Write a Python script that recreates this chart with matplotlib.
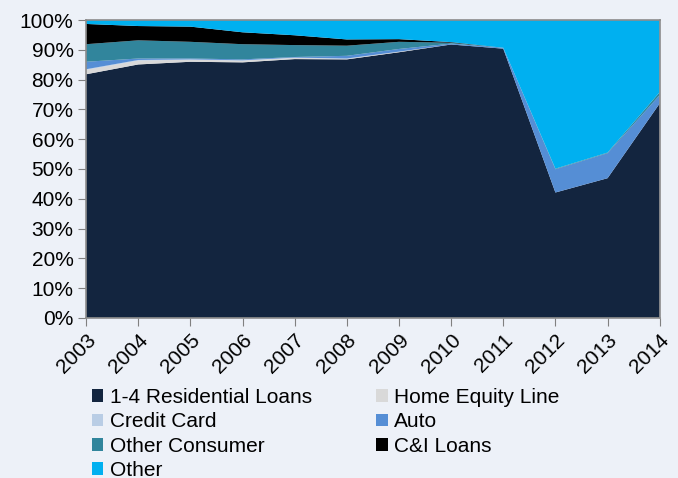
import numpy as np
import matplotlib.pyplot as plt

plt.rcParams['font.family'] = ['Liberation Sans', 'DejaVu Sans']

years = [2003, 2004, 2005, 2006, 2007, 2008, 2009, 2010, 2011, 2012, 2013, 2014]
residential = [81.8, 85.1, 86.0, 85.8, 86.9, 86.8, 89.2, 91.8, 90.4, 42.1, 46.9, 72.0]
home_equity = [1.5, 1.3, 0.7, 0.6, 0.4, 0.2, 0.2, 0.0, 0.0, 0.0, 0.0, 0.0]
credit_card = [0.2, 0.2, 0.1, 0.1, 0.1, 0.1, 0.0, 0.0, 0.0, 0.0, 0.0, 0.0]
auto = [2.5, 0.5, 0.3, 0.3, 0.2, 0.9, 0.9, 0.3, 0.3, 7.8, 8.4, 2.8]
other_consumer = [5.9, 6.1, 5.6, 5.1, 4.0, 3.4, 2.4, 0.3, 0.0, 0.2, 0.2, 1.0]
ci_loans = [6.8, 4.8, 5.1, 4.0, 3.3, 2.1, 0.9, 0.2, 0.0, 0.0, 0.0, 0.0]

series = [residential, home_equity, credit_card, auto, other_consumer, ci_loans]
other = [100 - sum(v) for v in zip(*series)]

labels = ['1-4 Residential Loans', 'Home Equity Line', 'Credit Card', 'Auto',
          'Other Consumer', 'C&I Loans', 'Other']
colors = ['#13253f', '#d9d9d9', '#b9cde5', '#558ed5', '#31859c', '#000000', '#00b0f0']

bg = '#edf1f8'
fig = plt.figure(figsize=(6.78, 4.78), dpi=100, facecolor=bg)
ax = fig.add_axes([0.127, 0.335, 0.846, 0.623])
ax.set_facecolor(bg)

polys = ax.stackplot(years, *(series + [other]), labels=labels, colors=colors, linewidth=0)

ax.set_xlim(2003, 2014)
ax.set_ylim(0, 100)
ax.set_xticks(years)
ax.set_xticklabels([str(y) for y in years], rotation=45, ha='right',
                   rotation_mode='anchor', fontsize=15)
ax.set_yticks(np.arange(0, 101, 10))
ax.set_yticklabels(['%d%%' % v for v in range(0, 101, 10)], fontsize=15)
ax.tick_params(direction='out', length=6, color='#808080', pad=3)
for s in ax.spines.values():
    s.set_color('#8c8c8c')
    s.set_linewidth(1.2)

# legend reads row by row in the reference
order = [0, 2, 4, 6, 1, 3, 5]
ax.legend([polys[i] for i in order], [labels[i] for i in order],
          loc='upper left', bbox_to_anchor=(0.01, -0.235), ncol=2,
          frameon=False, fontsize=15, handlelength=0.55, handleheight=0.55,
          handletextpad=0.3, columnspacing=3.1, labelspacing=0.26,
          borderaxespad=0, borderpad=0)

plt.savefig('out.png', dpi=100, facecolor=bg)
